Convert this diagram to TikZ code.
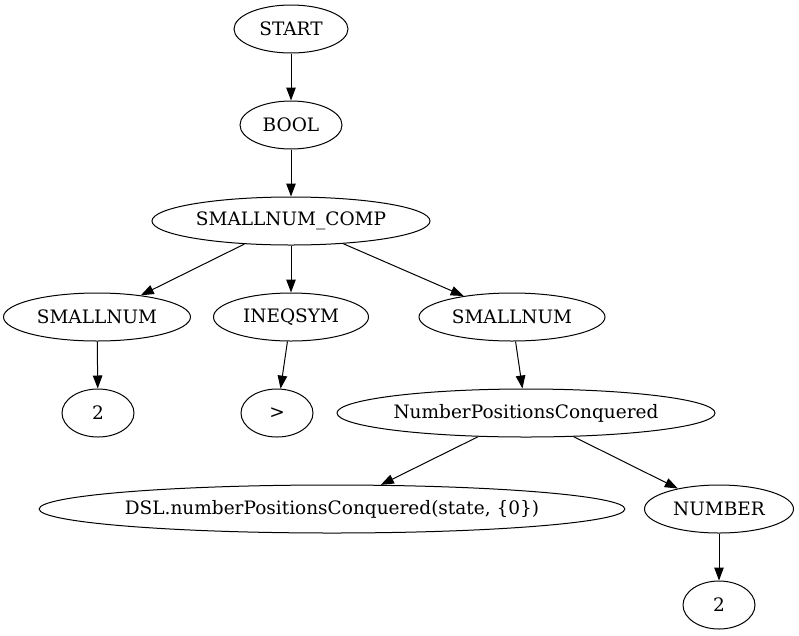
\documentclass[tikz,border=0pt]{standalone}
\usepackage{fontspec}
\setmainfont{DejaVu Serif}
\usetikzlibrary{shapes.geometric,arrows.meta}

\begin{document}
\begin{tikzpicture}[x=1pt,y=-1pt,
    tok/.style={ellipse, draw, line width=1pt, minimum height=48pt, inner sep=0pt,
      font=\fontsize{18.5}{22}\selectfont},
    edge/.style={line width=1pt, -{Triangle[length=13pt,width=9.5pt]}}]
  \useasboundingbox (0,0) rectangle (799,635);
  \node[tok, minimum width=114pt] (st) at (291,29) {START};
  \node[tok, minimum width=102pt] (bo) at (291,125) {BOOL};
  \node[tok, minimum width=278pt] (cmp) at (291,221) {SMALLNUM\_COMP};
  \node[tok, minimum width=187pt] (sn1) at (97,317) {SMALLNUM};
  \node[tok, minimum width=155pt] (ineq) at (291,317) {INEQSYM};
  \node[tok, minimum width=186pt] (sn2) at (512,317) {SMALLNUM};
  \node[tok, minimum width=72pt] (two1) at (98,413) {2};
  \node[tok, minimum width=72pt] (gt) at (277,413) {>};
  \node[tok, minimum width=378pt] (npc) at (526,413) {NumberPositionsConquered};
  \node[tok, minimum width=578pt] (dsl) at (332,509) {DSL.numberPositionsConquered(state, \{0\})};
  \node[tok, minimum width=149pt] (num) at (719,509) {NUMBER};
  \node[tok, minimum width=72pt] (two2) at (719,605) {2};
  \draw[edge] (st) -- (bo);
  \draw[edge] (bo) -- (cmp);
  \draw[edge] (cmp) -- (sn1);
  \draw[edge] (cmp) -- (ineq);
  \draw[edge] (cmp) -- (sn2);
  \draw[edge] (sn1) -- (two1);
  \draw[edge] (ineq) -- (gt);
  \draw[edge] (sn2) -- (npc);
  \draw[edge] (npc) -- (dsl);
  \draw[edge] (npc) -- (num);
  \draw[edge] (num) -- (two2);
\end{tikzpicture}
\end{document}
